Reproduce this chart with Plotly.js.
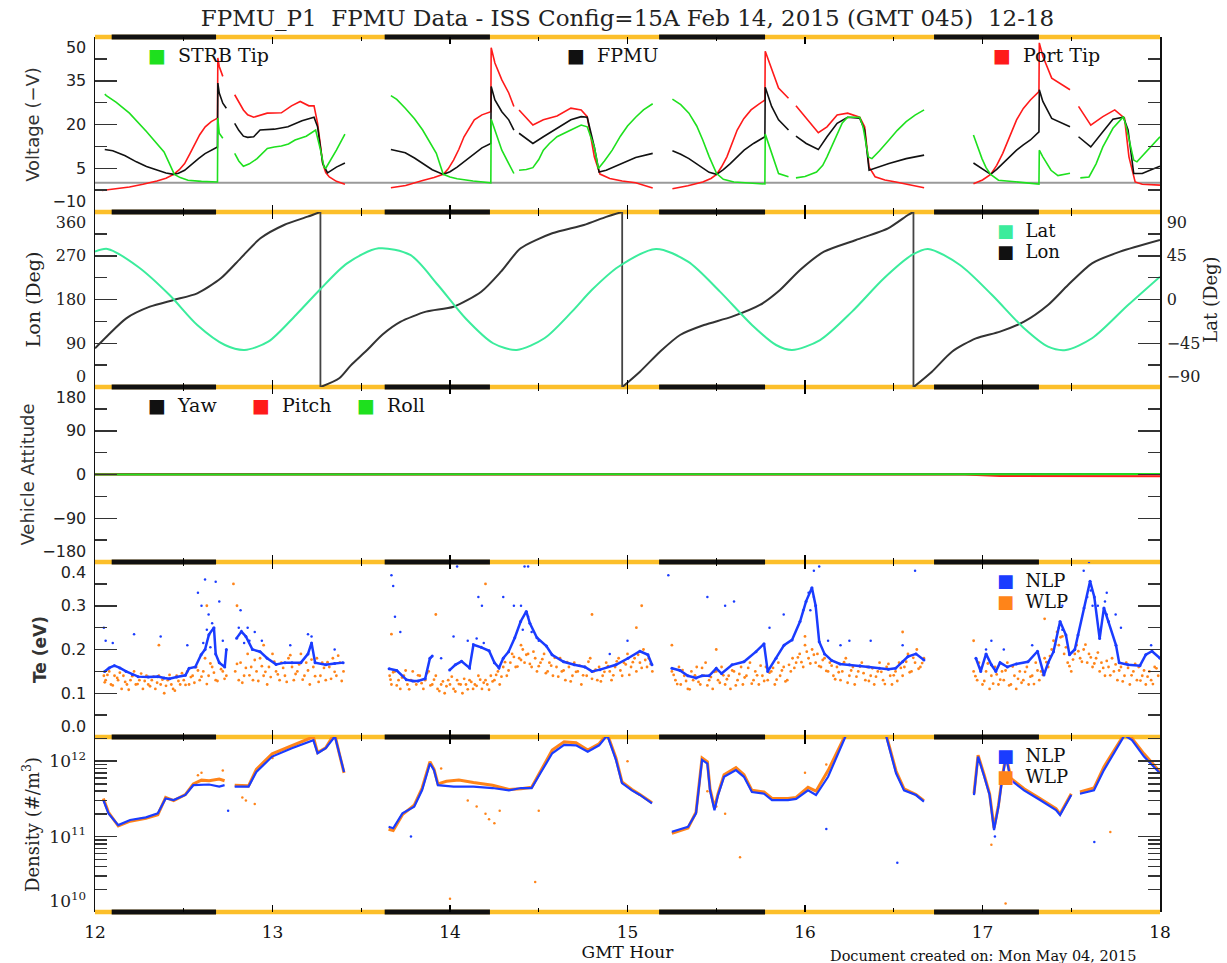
<!DOCTYPE html>
<html><head><meta charset="utf-8">
<script src="https://cdn.plot.ly/plotly-3.0.1.min.js"></script>
<style>body{margin:0;background:#fff}</style>
</head><body><div id="chart" style="width:1227px;height:963px"></div>
<script>
// ---------------- DATA (GMT hour, value) ----------------
const eclipseStart = [12.094, 13.632, 15.178, 16.727];
const eclipseEnd   = [12.682, 14.225, 15.775, 17.318];
const lonWrapHours = [13.27, 14.97, 16.611];

const strbTip = [[12.055,30.4],[12.064,29.9],[12.12,27.6],[12.194,23.9],[12.291,17.5],[12.389,10.6],[12.42,6.5],[12.447,2.9],[12.48,1.8],[12.524,0.9],[12.60,0.5],[12.69,0.3],[12.692,22.2],[12.70,17.0],[12.72,15.3],[12.75,null],
[12.787,10.1],[12.81,7.5],[12.836,5.7],[12.87,6.5],[12.913,8.3],[12.971,11.8],[13.01,12.3],[13.05,12.6],[13.09,13.3],[13.127,14.7],[13.19,16],[13.243,18.1],[13.273,10.6],[13.29,5.4],[13.30,5.0],[13.36,11.2],[13.408,16.7],[13.5,null],
[13.667,29.9],[13.70,28.6],[13.748,25.6],[13.80,22],[13.846,18.1],[13.89,13.5],[13.923,10.1],[13.945,6],[13.962,2.9],[14.0,2.0],[14.04,1.4],[14.13,0.6],[14.23,0],[14.232,21.8],[14.253,18.1],[14.292,11.2],[14.331,6.6],[14.36,3.2],[14.37,null],
[14.389,4.3],[14.43,4.6],[14.467,5.2],[14.50,8],[14.526,11.2],[14.56,13.5],[14.603,15.8],[14.64,17],[14.681,18.1],[14.739,19.8],[14.773,19.2],[14.813,12.3],[14.836,4.9],[14.87,7.5],[14.914,11.2],[14.96,16.0],[15.0,19.5],[15.046,22.5],[15.09,25],[15.142,27.1],[15.2,null],
[15.253,28.7],[15.30,26.8],[15.346,23.9],[15.39,19.5],[15.424,14.7],[15.46,9],[15.502,3.2],[15.54,1.2],[15.599,0.3],[15.774,-0.4],[15.776,16.7],[15.812,10.1],[15.851,3.2],[15.907,2.1],[15.93,null],
[15.949,1.7],[16.0,2.2],[16.065,3.7],[16.10,6],[16.124,8.9],[16.15,12.5],[16.181,17],[16.21,20.5],[16.24,22.5],[16.308,22.5],[16.327,19.2],[16.357,8.9],[16.377,8.3],[16.42,11],[16.473,14.7],[16.52,18],[16.57,21.0],[16.62,23.2],[16.671,25.0],[16.8,null],
[16.949,16.4],[16.997,8.3],[17.02,5.2],[17.046,2.9],[17.09,0.9],[17.2,0.2],[17.318,-0.4],[17.32,11.2],[17.34,8.9],[17.386,4.3],[17.425,2.5],[17.493,3.3],[17.52,null],
[17.551,1.7],[17.6,2.0],[17.64,6.5],[17.678,12.3],[17.735,18.7],[17.794,22.7],[17.81,19.2],[17.852,7.8],[17.87,7.2],[17.93,11],[18.0,15.8]];

const fpmu = [[12.055,11.4],[12.10,11.0],[12.17,9.3],[12.233,7.2],[12.29,5.6],[12.349,4.3],[12.40,3.4],[12.443,2.9],[12.47,3.3],[12.505,4.3],[12.54,6.2],[12.583,8.3],[12.62,10],[12.66,11.2],[12.69,12.3],[12.692,34.2],[12.70,30.8],[12.72,27.3],[12.74,25.6],[12.76,null],
[12.787,20.4],[12.81,18],[12.836,16.0],[12.86,15.6],[12.894,15.8],[12.93,18.1],[13.01,18.4],[13.087,19.2],[13.166,21.3],[13.234,22.5],[13.254,19.2],[13.283,6.6],[13.31,3.4],[13.36,5.4],[13.408,6.8],[13.5,null],
[13.667,11.4],[13.70,11.0],[13.748,10.3],[13.80,8.5],[13.846,6.6],[13.90,4.5],[13.962,2.9],[14.0,3.8],[14.04,5.4],[14.09,7.8],[14.137,10.1],[14.18,12],[14.23,13.5],[14.232,33.0],[14.253,28.4],[14.292,24.4],[14.331,21.6],[14.36,18.1],[14.37,null],
[14.389,17.0],[14.467,13.5],[14.526,15.8],[14.603,18.7],[14.681,21.6],[14.739,22.7],[14.773,22.5],[14.813,12.3],[14.84,3.7],[14.88,4.3],[14.914,5.2],[14.98,7],[15.046,8.7],[15.142,10.1],[15.2,null],
[15.253,11.0],[15.30,9.8],[15.346,8.3],[15.39,6.5],[15.424,4.9],[15.46,3.6],[15.502,2.9],[15.54,4.5],[15.579,6.6],[15.62,9],[15.657,11.2],[15.71,13.5],[15.774,15.8],[15.776,32.8],[15.812,26.2],[15.851,21.6],[15.907,18.1],[15.93,null],
[15.949,16.0],[16.007,13.5],[16.075,11.4],[16.124,15.8],[16.181,20.4],[16.24,22.5],[16.308,22.2],[16.336,18.1],[16.361,4.3],[16.42,5.5],[16.473,6.6],[16.57,8.3],[16.671,9.5],[16.8,null],
[16.949,6.8],[17.0,4.6],[17.046,2.9],[17.08,4.6],[17.114,6.6],[17.15,9],[17.192,11.2],[17.23,13],[17.27,14.7],[17.318,17.5],[17.32,31.9],[17.34,27.9],[17.39,22.1],[17.493,19.2],[17.52,null],
[17.541,15.8],[17.61,12.3],[17.678,17.5],[17.735,21.8],[17.794,22.5],[17.82,18.1],[17.852,3.2],[17.90,3.2],[17.95,4.5],[18.0,5.7]];

const portTip = [[12.039,-2.6],[12.12,-2.0],[12.194,-1.4],[12.27,-0.5],[12.349,0.6],[12.40,1.6],[12.443,2.9],[12.475,4.5],[12.505,6.6],[12.535,10],[12.563,13.5],[12.59,16.5],[12.621,19.2],[12.655,21],[12.69,22.2],[12.692,42.8],[12.70,39.9],[12.72,36.5],[12.75,null],
[12.787,30.2],[12.81,27.5],[12.836,25.0],[12.86,23.3],[12.894,22.5],[12.97,23.9],[13.05,24.0],[13.107,26.4],[13.156,27.9],[13.205,26.4],[13.234,26.4],[13.254,20.4],[13.27,13],[13.283,6.6],[13.30,3.5],[13.32,2.0],[13.36,0.5],[13.408,-0.5],[13.5,null],
[13.667,-1.7],[13.75,-0.9],[13.846,0.8],[13.91,1.8],[13.962,2.9],[13.99,4.8],[14.02,7.8],[14.05,11.5],[14.079,15.8],[14.11,19],[14.137,21.6],[14.18,23.3],[14.23,24.4],[14.232,46.3],[14.253,41.1],[14.292,35.3],[14.331,30.8],[14.36,26.2],[14.37,null],
[14.389,25.0],[14.467,19.8],[14.526,21.6],[14.603,22.9],[14.681,25.6],[14.739,25.0],[14.773,22.7],[14.813,8.9],[14.845,3.0],[14.9,1.5],[14.97,0.6],[15.046,0.0],[15.142,-1.8],[15.2,null],
[15.253,-2.0],[15.34,-1.0],[15.424,0.3],[15.47,1.5],[15.502,2.9],[15.53,5.5],[15.56,8.9],[15.59,13.5],[15.618,18.1],[15.655,22],[15.696,25.0],[15.74,27],[15.774,28.4],[15.776,45.1],[15.812,38.8],[15.851,32.5],[15.907,29.0],[15.93,null],
[15.949,26.4],[16.007,22.1],[16.075,17.2],[16.124,19.2],[16.181,23.3],[16.24,23.9],[16.308,22.5],[16.336,19.2],[16.361,5.4],[16.395,2.1],[16.45,1.0],[16.512,0.3],[16.59,-0.8],[16.671,-1.7],[16.8,null],
[16.949,-0.3],[17.0,1.0],[17.046,2.9],[17.08,6],[17.114,10.1],[17.15,15.5],[17.192,21.6],[17.23,25.5],[17.27,28.4],[17.318,31.3],[17.32,48.0],[17.34,43.4],[17.39,35.9],[17.493,31.9],[17.52,null],
[17.541,26.2],[17.61,19.8],[17.678,22.7],[17.745,25.0],[17.80,22.2],[17.825,8.9],[17.86,0.3],[17.90,-0.5],[18.0,-0.8]];

const lon = [[12.0,79.6],[12.065,103.5],[12.176,141.3],[12.309,165.2],[12.443,179],[12.576,192.7],[12.709,223.6],[12.82,264.7],[12.932,305.9],[13.065,333.3],[13.198,350.4],[13.269,360],[13.27,null],
[13.271,0],[13.376,17.9],[13.44,44],[13.53,75],[13.62,108],[13.72,134],[13.865,155],[14.02,165.2],[14.176,196],[14.287,237.2],[14.398,285.3],[14.576,316.2],[14.754,333.3],[14.88,350],[14.969,360],[14.97,null],
[14.971,0],[15.07,31.5],[15.183,72.6],[15.296,107],[15.431,127.5],[15.589,144.7],[15.746,168.7],[15.859,199.5],[15.972,240.7],[16.107,278.4],[16.287,302.4],[16.468,326.4],[16.58,353.8],[16.61,360],[16.611,null],
[16.612,0],[16.715,31.5],[16.828,72.6],[16.963,100],[17.099,113.8],[17.234,134.4],[17.369,168.7],[17.482,209.8],[17.617,254.4],[17.775,278.4],[18.0,302.4]];

const lat = [[12.0,49.2],[12.07,52],[12.242,33.7],[12.42,4.6],[12.576,-26.2],[12.732,-46.8],[12.843,-51.9],[12.976,-43.4],[13.132,-15.9],[13.265,9.8],[13.42,37.2],[13.598,52.6],[13.776,45.8],
[13.932,14.9],[14.087,-19.3],[14.243,-45],[14.376,-51.9],[14.532,-39.9],[14.687,-12.5],[14.80,10],[14.949,33.7],[15.161,52],[15.341,38.9],[15.521,8.1],[15.701,-26.2],[15.837,-46.8],
[15.927,-51.9],[16.085,-41.7],[16.265,-12.5],[16.445,21.8],[16.603,45.8],[16.693,52],[16.873,35.5],[17.054,4.6],[17.234,-29.6],[17.369,-48.5],[17.47,-51.9],[17.617,-39.9],[17.82,-5.7],[18.0,23.5]];

const yaw   = [[12.0,0.5],[14.2,0.5],[14.4,0],[17.0,0.5],[18.0,0.5]];
const pitch = [[12.0,0],[13.72,0],[13.8,-1.5],[13.9,0],[16.9,0],[17.1,-3],[17.6,-3.5],[17.8,-4],[18.0,-3.5]];
const roll  = [[12.0,0],[13.75,0.3],[14.3,0.8],[14.5,0],[16.9,0],[17.1,0.8],[18.0,0.8]];

const nlpTe = [[12.054,.150],[12.08,.158],[12.109,.163],[12.14,.158],[12.175,.150],[12.21,.143],[12.243,.138],[12.30,.137],[12.354,.138],[12.39,.135],[12.42,.133],[12.46,.137],[12.509,.141],[12.53,.157],[12.565,.160],[12.598,.188],[12.62,.2],[12.642,.234],[12.67,.25],[12.68,.19],[12.70,.17],[12.731,.160],[12.74,.2],[12.75,null],
[12.798,.226],[12.825,.241],[12.85,.23],[12.887,.2],[12.93,.195],[12.97,.18],[13.02,.166],[13.07,.17],[13.11,.17],[13.16,.17],[13.20,.19],[13.22,.215],[13.24,.17],[13.3,.165],[13.35,.168],[13.398,.17],[13.42,null],
[13.657,.156],[13.7,.152],[13.754,.131],[13.79,.128],[13.82,.128],[13.86,.133],[13.887,.18],[13.90,.185],[13.92,null],
[13.998,.153],[14.03,.165],[14.065,.173],[14.11,.158],[14.132,.211],[14.176,.205],[14.22,.197],[14.25,.17],[14.276,.158],[14.30,.18],[14.33,.195],[14.365,.227],[14.398,.264],[14.43,.287],[14.45,.26],[14.49,.227],[14.543,.208],[14.575,.188],[14.64,.172],[14.70,.165],[14.76,.16],[14.80,.15],[14.845,.154],[14.935,.165],[15.003,.18],[15.07,.196],[15.115,.188],[15.138,.165],[15.15,null],
[15.25,.157],[15.296,.152],[15.34,.14],[15.386,.135],[15.42,.14],[15.46,.14],[15.5,.157],[15.53,.145],[15.589,.165],[15.656,.172],[15.724,.195],[15.769,.213],[15.79,.15],[15.837,.18],[15.882,.21],[15.927,.222],[15.972,.264],[16.006,.31],[16.039,.341],[16.06,.30],[16.08,.218],[16.11,.19],[16.15,.175],[16.197,.167],[16.25,.165],[16.31,.163],[16.36,.16],[16.42,.157],[16.47,.155],[16.51,.157],[16.55,.172],[16.58,.184],[16.625,.19],[16.67,.176],[16.68,null],
[16.963,.18],[16.99,.15],[17.02,.19],[17.05,.165],[17.075,.15],[17.099,.17],[17.14,.16],[17.19,.167],[17.256,.172],[17.31,.196],[17.346,.142],[17.37,.17],[17.40,.195],[17.437,.264],[17.47,.233],[17.49,.188],[17.52,.2],[17.538,.233],[17.572,.295],[17.606,.356],[17.63,.32],[17.66,.225],[17.684,.295],[17.71,.264],[17.752,.21],[17.77,.17],[17.82,.165],[17.887,.163],[17.92,.188],[17.955,.196],[18.0,.18]];

const nlpTeScatter = [[12.05,.25],[12.06,.22],[12.1,.215],[12.22,.235],[12.37,.23],[12.52,.21],[12.58,.33],[12.60,.30],[12.62,.36],[12.64,.28],[12.66,.26],[12.68,.355],[12.70,.31],[12.72,.22],[12.82,.29],[12.86,.25],[12.9,.24],[12.94,.22],[13.1,.21],[13.2,.235],[13.22,.23],[13.35,.2],
[12.61,.215],[12.63,.245],[12.65,.205],[12.81,.25],[12.84,.215],[12.87,.22],[14.40,.30],[14.41,.245],[14.44,.275],[14.46,.24],[14.15,.225],[14.19,.215],[15.99,.29],[16.02,.33],[16.03,.29],[16.05,.32],[17.59,.32],[17.61,.335],[17.62,.30],[17.69,.31],[17.70,.28],[17.43,.25],[17.45,.245],
[13.67,.37],[13.68,.345],[13.69,.275],[13.72,.24],[13.95,.18],[14.02,.23],[14.04,.39],[14.1,.22],[14.16,.32],[14.18,.30],[14.3,.32],[14.36,.30],[14.42,.39],[14.44,.39],[14.5,.22],[14.9,.19],[15.0,.22],
[15.23,.37],[15.45,.32],[15.55,.30],[15.6,.31],[15.8,.25],[15.88,.28],[16.05,.38],[16.08,.39],[16.13,.22],[16.2,.21],[16.25,.22],[16.37,.22],[16.55,.21],[16.62,.38],
[17.02,.2],[17.05,.22],[17.12,.2],[17.28,.21],[17.45,.30],[17.57,.38],[17.6,.40],[17.65,.30],[17.7,.33],[17.75,.28],[17.78,.25],[17.95,.21]];

const wlpTe = [[12.05,.14],[12.06,.13],[12.08,.15],[12.09,.12],[12.11,.14],[12.13,.13],[12.15,.11],[12.16,.14],[12.18,.12],[12.20,.13],[12.22,.15],[12.23,.12],[12.25,.13],[12.27,.11],[12.29,.14],[12.30,.12],[12.32,.13],[12.34,.11],[12.36,.14],[12.37,.12],[12.39,.10],[12.41,.13],[12.43,.12],[12.44,.11],[12.46,.14],[12.48,.12],[12.50,.13],[12.52,.15],[12.53,.12],[12.55,.14],[12.57,.16],[12.59,.13],[12.61,.15],[12.62,.18],[12.64,.14],[12.66,.16],[12.68,.13],[12.70,.17],[12.72,.15],[12.74,.14],
[12.79,.15],[12.81,.13],[12.82,.17],[12.84,.14],[12.86,.19],[12.88,.16],[12.89,.13],[12.91,.15],[12.93,.18],[12.95,.14],[12.97,.12],[12.98,.16],[13.00,.19],[13.02,.15],[13.04,.13],[13.05,.17],[13.07,.14],[13.09,.18],[13.11,.16],[13.12,.13],[13.14,.15],[13.16,.19],[13.18,.14],[13.19,.17],[13.21,.12],[13.23,.16],[13.25,.18],[13.27,.14],[13.28,.17],[13.30,.13],[13.32,.16],[13.34,.18],[13.36,.14],[13.38,.17],[13.40,.15],
[13.66,.14],[13.67,.12],[13.69,.15],[13.71,.13],[13.72,.11],[13.74,.14],[13.76,.12],[13.78,.13],[13.79,.15],[13.81,.12],[13.83,.14],[13.85,.11],[13.86,.13],[13.88,.15],[13.90,.12],[13.92,.14],[13.93,.11],[13.95,.12],[13.97,.10],[13.99,.13],[14.00,.12],[14.02,.11],[14.04,.13],[14.06,.12],[14.07,.10],[14.09,.12],[14.11,.13],[14.13,.11],[14.14,.12],[14.16,.14],[14.18,.11],[14.20,.13],[14.21,.12],[14.23,.14],[14.25,.13],[14.27,.15],[14.28,.12],[14.30,.16],[14.32,.14],[14.34,.17],[14.35,.19],[14.37,.16],[14.39,.18],[14.41,.20],[14.42,.17],[14.44,.19],[14.46,.16],[14.48,.18],[14.49,.15],[14.51,.17],[14.53,.19],[14.55,.15],[14.56,.17],[14.58,.14],[14.60,.16],[14.62,.18],[14.63,.15],[14.65,.13],[14.67,.16],[14.69,.14],[14.70,.17],[14.72,.15],[14.74,.12],[14.76,.16],[14.77,.14],[14.79,.18],[14.81,.15],[14.83,.13],[14.84,.16],[14.86,.14],[14.88,.17],[14.90,.15],[14.91,.13],[14.93,.16],[14.95,.18],[14.97,.14],[14.98,.17],[15.00,.19],[15.02,.16],[15.04,.18],[15.05,.15],[15.07,.17],[15.09,.20],[15.11,.16],[15.12,.18],[15.14,.15],
[15.25,.15],[15.27,.13],[15.29,.16],[15.30,.12],[15.32,.14],[15.34,.11],[15.36,.15],[15.37,.13],[15.39,.16],[15.41,.12],[15.43,.14],[15.44,.17],[15.46,.13],[15.48,.11],[15.50,.15],[15.51,.13],[15.53,.16],[15.55,.12],[15.57,.14],[15.58,.11],[15.60,.15],[15.62,.13],[15.64,.16],[15.65,.12],[15.67,.14],[15.69,.17],[15.71,.13],[15.72,.15],[15.74,.12],[15.76,.14],[15.78,.16],[15.79,.13],[15.81,.15],[15.83,.12],[15.85,.17],[15.86,.14],[15.88,.16],[15.90,.13],[15.92,.15],[15.93,.18],[15.95,.17],[15.97,.19],[15.99,.16],[16.00,.21],[16.02,.18],[16.04,.20],[16.06,.17],[16.07,.19],[16.09,.16],[16.11,.18],[16.13,.15],[16.14,.17],[16.16,.14],[16.18,.16],[16.20,.13],[16.21,.15],[16.23,.18],[16.25,.14],[16.27,.16],[16.28,.12],[16.30,.15],[16.32,.17],[16.34,.13],[16.35,.16],[16.37,.14],[16.39,.12],[16.41,.15],[16.42,.17],[16.44,.13],[16.46,.16],[16.48,.14],[16.49,.12],[16.51,.15],[16.53,.17],[16.55,.14],[16.56,.16],[16.58,.19],[16.60,.15],[16.62,.17],[16.63,.20],[16.65,.16],[16.67,.18],
[16.95,.15],[16.97,.13],[16.98,.17],[17.00,.12],[17.02,.15],[17.04,.11],[17.05,.14],[17.07,.16],[17.09,.12],[17.11,.15],[17.12,.13],[17.14,.17],[17.16,.12],[17.18,.14],[17.19,.11],[17.21,.15],[17.23,.13],[17.25,.16],[17.26,.12],[17.28,.14],[17.30,.17],[17.32,.13],[17.33,.15],[17.35,.18],[17.37,.16],[17.39,.20],[17.40,.22],[17.42,.24],[17.43,.21],[17.45,.23],[17.46,.19],[17.48,.17],[17.50,.15],[17.52,.19],[17.53,.21],[17.55,.18],[17.57,.20],[17.59,.17],[17.60,.19],[17.62,.16],[17.64,.18],[17.66,.15],[17.67,.17],[17.69,.14],[17.71,.16],[17.73,.18],[17.74,.15],[17.76,.13],[17.78,.16],[17.80,.14],[17.81,.17],[17.83,.12],[17.85,.15],[17.87,.13],[17.88,.16],[17.90,.14],[17.92,.12],[17.94,.15],[17.95,.13],[17.97,.16],[17.99,.14]];

const wlpTe2 = [[12.055,.125],[12.07,.142],[12.10,.118],[12.125,.135],[12.14,.147],[12.17,.126],[12.19,.108],[12.21,.139],[12.24,.121],[12.26,.145],[12.28,.128],[12.31,.116],[12.33,.138],[12.35,.124],[12.38,.131],[12.40,.117],[12.42,.142],[12.45,.106],[12.47,.128],[12.49,.146],[12.51,.119],[12.54,.137],[12.56,.124],[12.58,.152],[12.60,.138],[12.63,.121],[12.65,.168],[12.67,.147],[12.69,.128],[12.71,.155],[12.73,.133],
[12.80,.167],[12.83,.124],[12.85,.158],[12.87,.141],[12.90,.176],[12.92,.128],[12.94,.162],[12.96,.149],[12.99,.137],[13.01,.172],[13.03,.143],[13.06,.158],[13.08,.126],[13.10,.187],[13.13,.144],[13.15,.166],[13.17,.131],[13.20,.152],[13.22,.177],[13.24,.139],[13.26,.126],[13.29,.158],[13.31,.171],[13.33,.133],[13.35,.149],[13.37,.186],[13.39,.128],
[13.665,.131],[13.68,.148],[13.70,.118],[13.73,.136],[13.75,.152],[13.77,.109],[13.80,.127],[13.82,.141],[13.84,.123],[13.87,.146],[13.89,.118],[13.91,.131],[13.94,.105],[13.96,.127],[13.98,.116],[14.01,.138],[14.03,.104],[14.05,.121],[14.08,.133],[14.10,.109],[14.12,.126],[14.15,.117],[14.17,.131],[14.19,.124],[14.22,.108],[14.24,.127],[14.26,.142],[14.29,.138],[14.31,.171],[14.33,.152],[14.36,.183],[14.38,.161],[14.40,.176],[14.43,.188],[14.45,.167],[14.47,.195],[14.50,.162],[14.52,.178],[14.54,.146],[14.57,.163],[14.59,.181],[14.61,.138],[14.64,.152],[14.66,.171],[14.68,.127],[14.71,.149],[14.73,.163],[14.75,.141],[14.78,.172],[14.80,.133],[14.82,.154],[14.85,.127],[14.87,.149],[14.89,.162],[14.92,.141],[14.94,.173],[14.96,.152],[14.99,.166],[15.01,.142],[15.03,.171],[15.06,.188],[15.08,.158],[15.10,.176],[15.13,.167],
[15.26,.142],[15.28,.121],[15.31,.153],[15.33,.128],[15.35,.109],[15.38,.141],[15.40,.126],[15.42,.158],[15.45,.118],[15.47,.137],[15.49,.149],[15.52,.124],[15.54,.141],[15.56,.132],[15.59,.152],[15.61,.118],[15.63,.144],[15.66,.136],[15.68,.158],[15.70,.122],[15.73,.141],[15.75,.163],[15.77,.128],[15.80,.147],[15.82,.158],[15.84,.131],[15.87,.152],[15.89,.127],[15.91,.165],[15.94,.158],[15.96,.182],[15.98,.171],[16.01,.195],[16.03,.168],[16.05,.188],[16.08,.162],[16.10,.176],[16.12,.151],[16.15,.163],[16.17,.132],[16.19,.148],[16.22,.171],[16.24,.124],[16.26,.152],[16.29,.138],[16.31,.161],[16.33,.146],[16.36,.128],[16.38,.157],[16.40,.138],[16.43,.149],[16.45,.121],[16.47,.167],[16.50,.141],[16.52,.128],[16.54,.158],[16.57,.172],[16.59,.148],[16.61,.181],[16.64,.156],[16.66,.169],
[16.96,.139],[16.99,.158],[17.01,.128],[17.03,.168],[17.06,.122],[17.08,.143],[17.10,.131],[17.13,.152],[17.15,.118],[17.17,.161],[17.20,.133],[17.22,.124],[17.24,.149],[17.27,.138],[17.29,.121],[17.31,.152],[17.34,.142],[17.36,.171],[17.38,.185],[17.41,.211],[17.44,.228],[17.47,.205],[17.49,.162],[17.51,.177],[17.54,.196],[17.56,.172],[17.58,.211],[17.61,.182],[17.63,.168],[17.65,.193],[17.68,.158],[17.70,.174],[17.72,.141],[17.75,.166],[17.77,.152],[17.79,.127],[17.82,.158],[17.84,.141],[17.86,.167],[17.89,.129],[17.91,.152],[17.93,.138],[17.96,.121],[17.98,.157]];

const wlpTeScatter = [[12.36,.21],[12.63,.30],[12.78,.35],[12.8,.30],[12.95,.21],[13.67,.235],[13.92,.28],[14.2,.35],[14.4,.21],[14.8,.28],[15.05,.25],[15.08,.30],[15.25,.21],[15.5,.20],[16.0,.23],[16.55,.24],[16.95,.22],[17.35,.27]];

const nlpDen = [[12.047,3.05e11],[12.076,2.03e11],[12.131,1.42e11],[12.198,1.66e11],[12.287,1.8e11],[12.354,2.03e11],[12.398,3.2e11],[12.443,3.05e11],[12.509,3.56e11],[12.554,4.8e11],[12.643,4.9e11],[12.70,4.6e11],[12.73,4.8e11],[12.74,null],
[12.787,4.6e11],[12.865,4.6e11],[12.909,7.2e11],[12.998,1.15e12],[13.109,1.48e12],[13.198,1.76e12],[13.23,1.9e12],[13.254,1.27e12],[13.3,1.48e12],[13.343,2.0e12],[13.35,2.2e12],[13.375,1.3e12],[13.403,7.2e11],[13.5,null],
[13.654,1.35e11],[13.68,1.29e11],[13.732,2.03e11],[13.798,2.49e11],[13.843,4.14e11],[13.887,9.3e11],[13.91,7.6e11],[13.932,4.8e11],[14.02,4.6e11],[14.132,4.6e11],[14.24,4.4e11],[14.332,4.1e11],[14.40,4.4e11],[14.46,4.4e11],[14.509,6.9e11],[14.576,1.27e12],[14.643,1.64e12],[14.71,1.62e12],[14.776,1.33e12],[14.84,1.62e12],[14.886,2.2e12],[14.935,1.04e12],[14.969,5.1e11],[15.025,4.1e11],[15.07,3.56e11],[15.138,2.75e11],[15.2,null],
[15.25,1.16e11],[15.341,1.35e11],[15.386,2.03e11],[15.42,1.04e12],[15.45,9.3e11],[15.465,4.1e11],[15.49,2.24e11],[15.51,3.55e11],[15.544,6.2e11],[15.611,7.6e11],[15.656,6.2e11],[15.701,3.9e11],[15.769,3.7e11],[15.814,3.05e11],[15.904,3.05e11],[15.95,3.16e11],[16.017,4.1e11],[16.062,3.55e11],[16.13,6.2e11],[16.197,1.4e12],[16.231,2.2e12],[16.332,2.5e12],[16.456,2.2e12],[16.513,6.9e11],[16.558,4.1e11],[16.625,3.55e11],[16.67,2.9e11],[16.8,null],
[16.952,3.55e11],[16.975,1.15e12],[17.01,6.2e11],[17.04,3.55e11],[17.065,1.22e11],[17.09,2.5e11],[17.11,5.6e11],[17.132,1.15e12],[17.16,5.6e11],[17.234,4.1e11],[17.324,3.05e11],[17.414,2.25e11],[17.437,1.93e11],[17.482,3.05e11],[17.5,3.55e11],[17.52,null],
[17.549,3.7e11],[17.628,4.1e11],[17.684,7.6e11],[17.752,1.4e12],[17.8,2.2e12],[17.842,1.9e12],[17.91,1.15e12],[18.0,6.9e11]];

const wlpDen = [[12.047,3.2e11],[12.076,2.1e11],[12.131,1.38e11],[12.198,1.6e11],[12.287,1.75e11],[12.354,1.95e11],[12.398,3.3e11],[12.443,3.0e11],[12.509,3.6e11],[12.554,5.0e11],[12.60,5.6e11],[12.643,5.5e11],[12.70,5.8e11],[12.73,5.5e11],[12.74,null],
[12.787,4.8e11],[12.865,4.7e11],[12.909,7.8e11],[12.998,1.25e12],[13.109,1.6e12],[13.198,1.95e12],[13.23,2.1e12],[13.254,1.3e12],[13.3,1.5e12],[13.343,2.2e12],[13.35,2.3e12],[13.375,1.3e12],[13.403,7.0e11],[13.5,null],
[13.654,1.25e11],[13.68,1.2e11],[13.732,1.95e11],[13.798,2.6e11],[13.843,4.4e11],[13.887,9.8e11],[13.91,7.8e11],[13.932,5.0e11],[13.98,5.4e11],[14.05,5.6e11],[14.132,5.2e11],[14.24,4.8e11],[14.332,4.2e11],[14.40,4.3e11],[14.46,4.5e11],[14.509,7.3e11],[14.576,1.4e12],[14.643,1.8e12],[14.71,1.75e12],[14.776,1.4e12],[14.84,1.7e12],[14.886,2.3e12],[14.935,1.1e12],[14.969,5.3e11],[15.025,4.2e11],[15.07,3.6e11],[15.138,2.8e11],[15.2,null],
[15.25,1.1e11],[15.341,1.3e11],[15.386,2.1e11],[15.42,1.1e12],[15.45,9.8e11],[15.465,4.3e11],[15.49,2.4e11],[15.51,3.7e11],[15.544,6.6e11],[15.611,8.2e11],[15.656,6.6e11],[15.701,4.1e11],[15.769,3.9e11],[15.814,3.2e11],[15.904,3.2e11],[15.95,3.3e11],[16.017,4.5e11],[16.062,4.0e11],[16.13,7.5e11],[16.197,1.6e12],[16.231,2.3e12],[16.332,2.6e12],[16.456,2.3e12],[16.513,7.4e11],[16.558,4.3e11],[16.625,3.6e11],[16.67,3.0e11],[16.8,null],
[16.952,3.7e11],[16.975,1.2e12],[17.01,6.5e11],[17.04,3.7e11],[17.065,1.3e11],[17.09,2.6e11],[17.11,5.9e11],[17.132,1.2e12],[17.16,5.9e11],[17.234,4.3e11],[17.324,3.2e11],[17.414,2.35e11],[17.437,2.0e11],[17.482,3.2e11],[17.5,3.7e11],[17.52,null],
[17.549,3.9e11],[17.628,4.4e11],[17.684,8.4e11],[17.752,1.55e12],[17.8,2.3e12],[17.842,2.0e12],[17.91,1.25e12],[18.0,7.2e11]];

const wlpDenScatter = [[12.58,6.5e11],[12.6,7e11],[12.72,7.5e11],[12.83,3.3e11],[12.85,3e11],[12.9,2.7e11],[13.0,1.1e12],[13.95,8e11],[14.1,3e11],[14.15,2.5e11],[14.2,2e11],[14.22,1.7e11],[14.25,1.5e11],[14.28,2.2e11],[14.0,1.5e10],[14.48,2.5e10],[14.5,2.2e11],[15.0,1.0e12],[15.45,4e11],[15.5,2.5e11],[15.55,2e11],[15.634,5.3e10],[16.0,7e11],[16.12,9e11],[17.05,7.8e10],[17.13,1.3e10],[17.72,1.15e11]];
const nlpDenScatter = [[12.75,2.2e11],[13.78,1.0e11],[16.12,1.26e11],[16.52,4.5e10],[17.63,8.5e10],[17.07,1.0e11]];

// tick labels (edge labels carry an empty line so they sit inside their own panel, as in the original)
const voltTicks = [-10, 5, 20, 35, 50];
const voltText  = ['−10<br>\u00a0', '5', '20', '35', '\u00a0<br>50'];
const lonTicks  = [0, 90, 180, 270, 360];
const lonText   = ['0<br>\u00a0', '90', '180', '270', '\u00a0<br>360'];
const latTicks  = [-90, -45, 0, 45, 90];
const latText   = ['−90<br>\u00a0', '−45', '0', '45', '\u00a0<br>90'];
const attTicks  = [-180, -90, 0, 90, 180];
const attText   = ['−180<br>\u00a0', '−90', '0', '90', '\u00a0<br>180'];
const teTicks   = [0, 0.1, 0.2, 0.3, 0.4];
const teText    = ['0.0<br>\u00a0', '0.1', '0.2', '0.3', '\u00a0<br>0.4'];
const denTicks  = [1e10, 1e11, 1e12];
const denText   = ['10<sup>10</sup><br>\u00a0', '10<sup>11</sup>', '10<sup>12</sup>'];

// ---------------- STYLE / LAYOUT ----------------
const SANS = 'DejaVu Sans', SERIF = 'DejaVu Serif';
const GREEN = '#1ee01e', RED = '#ff1a1a', BLACK = '#111', LATC = '#3bec9c', BLUE = '#1a3cff', ORANGE = '#ff8419', GOLD = '#fcbf2a';
const X = a => a.map(p => p[0]);
const Y = a => a.map(p => p[1]);

// vertical wrap lines of the longitude trace (360 -> 0)
const wrapX = [], wrapY = [];
lonWrapHours.forEach(h => { wrapX.push(h, h, null); wrapY.push(360, 0, null); });

const traces = [
  {x:X(portTip), y:Y(portTip), xaxis:'x', yaxis:'y', mode:'lines', line:{color:RED, width:1.6}},
  {x:X(fpmu), y:Y(fpmu), xaxis:'x', yaxis:'y', mode:'lines', line:{color:BLACK, width:1.6}},
  {x:X(strbTip), y:Y(strbTip), xaxis:'x', yaxis:'y', mode:'lines', line:{color:GREEN, width:1.6}},
  {x:X(lon), y:Y(lon), xaxis:'x2', yaxis:'y2', mode:'lines', line:{color:'#333', width:2, shape:'spline', smoothing:0.7}},
  {x:wrapX, y:wrapY, xaxis:'x2', yaxis:'y2', mode:'lines', line:{color:'#444', width:1.8}},
  {x:X(lat), y:Y(lat), xaxis:'x2', yaxis:'y6', mode:'lines', line:{color:LATC, width:2, shape:'spline', smoothing:0.8}},
  {x:X(yaw), y:Y(yaw), xaxis:'x3', yaxis:'y3', mode:'lines', line:{color:BLACK, width:2}},
  {x:X(pitch), y:Y(pitch), xaxis:'x3', yaxis:'y3', mode:'lines', line:{color:RED, width:2}},
  {x:X(roll), y:Y(roll), xaxis:'x3', yaxis:'y3', mode:'lines', line:{color:GREEN, width:2}},
  {x:X(wlpTe), y:Y(wlpTe), xaxis:'x4', yaxis:'y4', mode:'markers', marker:{color:ORANGE, size:2.8}},
  {x:X(wlpTe2), y:Y(wlpTe2), xaxis:'x4', yaxis:'y4', mode:'markers', marker:{color:ORANGE, size:2.8}},
  {x:X(wlpTeScatter), y:Y(wlpTeScatter), xaxis:'x4', yaxis:'y4', mode:'markers', marker:{color:ORANGE, size:2.8}},
  {x:X(nlpTe), y:Y(nlpTe), xaxis:'x4', yaxis:'y4', mode:'lines+markers', line:{color:BLUE, width:2.5}, marker:{color:BLUE, size:3}},
  {x:X(nlpTeScatter), y:Y(nlpTeScatter), xaxis:'x4', yaxis:'y4', mode:'markers', marker:{color:BLUE, size:2.5}},
  {x:X(wlpDen), y:Y(wlpDen), xaxis:'x5', yaxis:'y5', mode:'lines', line:{color:ORANGE, width:3}},
  {x:X(wlpDenScatter), y:Y(wlpDenScatter), xaxis:'x5', yaxis:'y5', mode:'markers', marker:{color:ORANGE, size:2.5}},
  {x:X(nlpDen), y:Y(nlpDen), xaxis:'x5', yaxis:'y5', mode:'lines', line:{color:BLUE, width:2.2}},
  {x:X(nlpDenScatter), y:Y(nlpDenScatter), xaxis:'x5', yaxis:'y5', mode:'markers', marker:{color:BLUE, size:2.5}}
];

const xCommon = (anchor, labels) => ({
  anchor, range:[12,18], tickvals:[12,13,14,15,16,17,18], ticks:'inside', ticklen:7, tickwidth:1.2, tickcolor:'#000',
  minor:{tickvals:[12.5,13.5,14.5,15.5,16.5,17.5], ticks:'inside', ticklen:4, tickwidth:1, tickcolor:'#000'},
  mirror:'ticks', showline:false, showgrid:false, zeroline:false, showticklabels:labels,
  tickfont:{family:SERIF, size:17, color:'#111'}, ticklabelstandoff:8
});
const yCommon = (domain, anchor, extra) => Object.assign({
  domain, anchor, ticks:'inside', ticklen:22, tickwidth:1.5, tickcolor:'#333',
  showline:true, linecolor:'#111', linewidth:1.5, mirror:'ticks', showgrid:false, zeroline:false,
  tickfont:{family:SANS, size:16, color:'#222'}, ticklabelstandoff:4
}, extra);

const PX = 1/875; // one pixel of plot height in paper units
const boundaries = [0, 0.2, 0.4, 0.6, 0.8, 1.0];
const shapes = [];
boundaries.forEach(b => {
  shapes.push({type:'rect', xref:'x', yref:'paper', x0:12, x1:18, y0:b-2.3*PX, y1:b+2.3*PX, fillcolor:GOLD, line:{width:0}, layer:'below'});
  eclipseStart.forEach((s,i) => shapes.push({type:'rect', xref:'x', yref:'paper', x0:s, x1:eclipseEnd[i], y0:b-2.6*PX, y1:b+2.6*PX, fillcolor:'#111', line:{width:0}, layer:'below'}));
});
shapes.push({type:'line', xref:'x', yref:'y', x0:12, x1:18, y0:0, y1:0, line:{color:'#9a9a9a', width:2}, layer:'below'});

const sq = c => `<span style="color:${c}">■</span>\u00a0\u00a0`;
const legFont = {family:SERIF, size:19, color:'#111'};
const legFontS = {family:SERIF, size:18, color:'#111'};
const ann = (x, y, c, t, f) => ({xref:'x', yref:'paper', x, y, xanchor:'left', yanchor:'middle', text:sq(c)+t, showarrow:false, font:f || legFont});
const annotations = [
  ann(12.29, 0.979, GREEN, 'STRB Tip'), ann(14.65, 0.979, BLACK, 'FPMU'), ann(17.05, 0.979, RED, 'Port Tip'),
  ann(17.07, 0.7794, LATC, 'Lat', legFontS), ann(17.07, 0.7543, BLACK, 'Lon', legFontS),
  ann(12.29, 0.579, BLACK, 'Yaw'), ann(12.875, 0.579, RED, 'Pitch'), ann(13.465, 0.579, GREEN, 'Roll'),
  ann(17.07, 0.3794, BLUE, 'NLP', legFontS), ann(17.07, 0.3543, ORANGE, 'WLP', legFontS),
  ann(17.07, 0.1794, BLUE, 'NLP', legFontS), ann(17.07, 0.1543, ORANGE, 'WLP', legFontS),
  {xref:'paper', yref:'paper', x:0.834, y:-0.0503, xanchor:'center', yanchor:'middle', showarrow:false,
   text:'Document created on: Mon May 04, 2015', font:{family:SERIF, size:14.5, color:'#111'}}
];

const minorY = vals => ({tickvals:vals, ticks:'inside', ticklen:12, tickwidth:1.5, tickcolor:'#333'});

const layout = {
  width:1227, height:963, paper_bgcolor:'#fff', plot_bgcolor:'#fff', showlegend:false,
  margin:{l:95, r:67, t:37, b:51},
  title:{text:'FPMU_P1\u00a0\u00a0FPMU Data - ISS Config=15A Feb 14, 2015 (GMT 045)\u00a0\u00a012-18',
         font:{family:SERIF, size:23, color:'#222'}, xref:'paper', x:0.5, xanchor:'center', yref:'container', y:1-18/963, yanchor:'middle'},
  xaxis: xCommon('y', false),
  xaxis2: xCommon('y2', false),
  xaxis3: xCommon('y3', false),
  xaxis4: xCommon('y4', false),
  xaxis5: Object.assign(xCommon('y5', true), {title:{text:'GMT Hour', font:{family:SERIF, size:17, color:'#111'}, standoff:2}}),
  yaxis: yCommon([0.8,1], 'x', {range:[-10,50], tickvals:voltTicks, ticktext:voltText,
    minor:minorY([-2.5,12.5,27.5,42.5]),
    title:{text:'Voltage (−V)', font:{family:SANS, size:18, color:'#333'}, standoff:8}}),
  yaxis2: yCommon([0.6,0.8], 'x2', {range:[0,360], tickvals:lonTicks, ticktext:lonText, mirror:false,
    minor:minorY([45,135,225,315]),
    tickfont:{family:SERIF, size:16, color:'#222'},
    title:{text:'Lon (Deg)', font:{family:SERIF, size:19, color:'#222'}, standoff:10}}),
  yaxis6: yCommon([0.6,0.8], 'x2', {overlaying:'y2', side:'right', range:[-90,90], tickvals:latTicks, ticktext:latText, mirror:false,
    minor:minorY([-67.5,-22.5,22.5,67.5]),
    tickfont:{family:SERIF, size:16, color:'#222'}, ticklabelstandoff:2,
    title:{text:'Lat (Deg)', font:{family:SERIF, size:18, color:'#222'}, standoff:0}}),
  yaxis3: yCommon([0.4,0.6], 'x3', {range:[-180,180], tickvals:attTicks, ticktext:attText,
    minor:minorY([-135,-45,45,135]),
    title:{text:'Vehicle Attitude', font:{family:SANS, size:18, color:'#333'}, standoff:3}}),
  yaxis4: yCommon([0.2,0.4], 'x4', {range:[0,0.4], tickvals:teTicks, ticktext:teText,
    minor:minorY([0.05,0.15,0.25,0.35]),
    title:{text:'<b>Te (eV)</b>', font:{family:SANS, size:17, color:'#333'}, standoff:10}}),
  yaxis5: yCommon([0,0.2], 'x5', {type:'log', range:[10,12.32], tickvals:denTicks, ticktext:denText,
    minor:minorY([2e10,3e10,4e10,5e10,6e10,7e10,8e10,9e10,2e11,3e11,4e11,5e11,6e11,7e11,8e11,9e11,2e12]),
    tickfont:{family:SERIF, size:17, color:'#222'},
    title:{text:'Density (#/m<sup>3</sup>)', font:{family:SERIF, size:18, color:'#222'}, standoff:5}}),
  shapes, annotations
};

Plotly.newPlot('chart', traces, layout, {displayModeBar:false, staticPlot:true});
</script></body></html>
